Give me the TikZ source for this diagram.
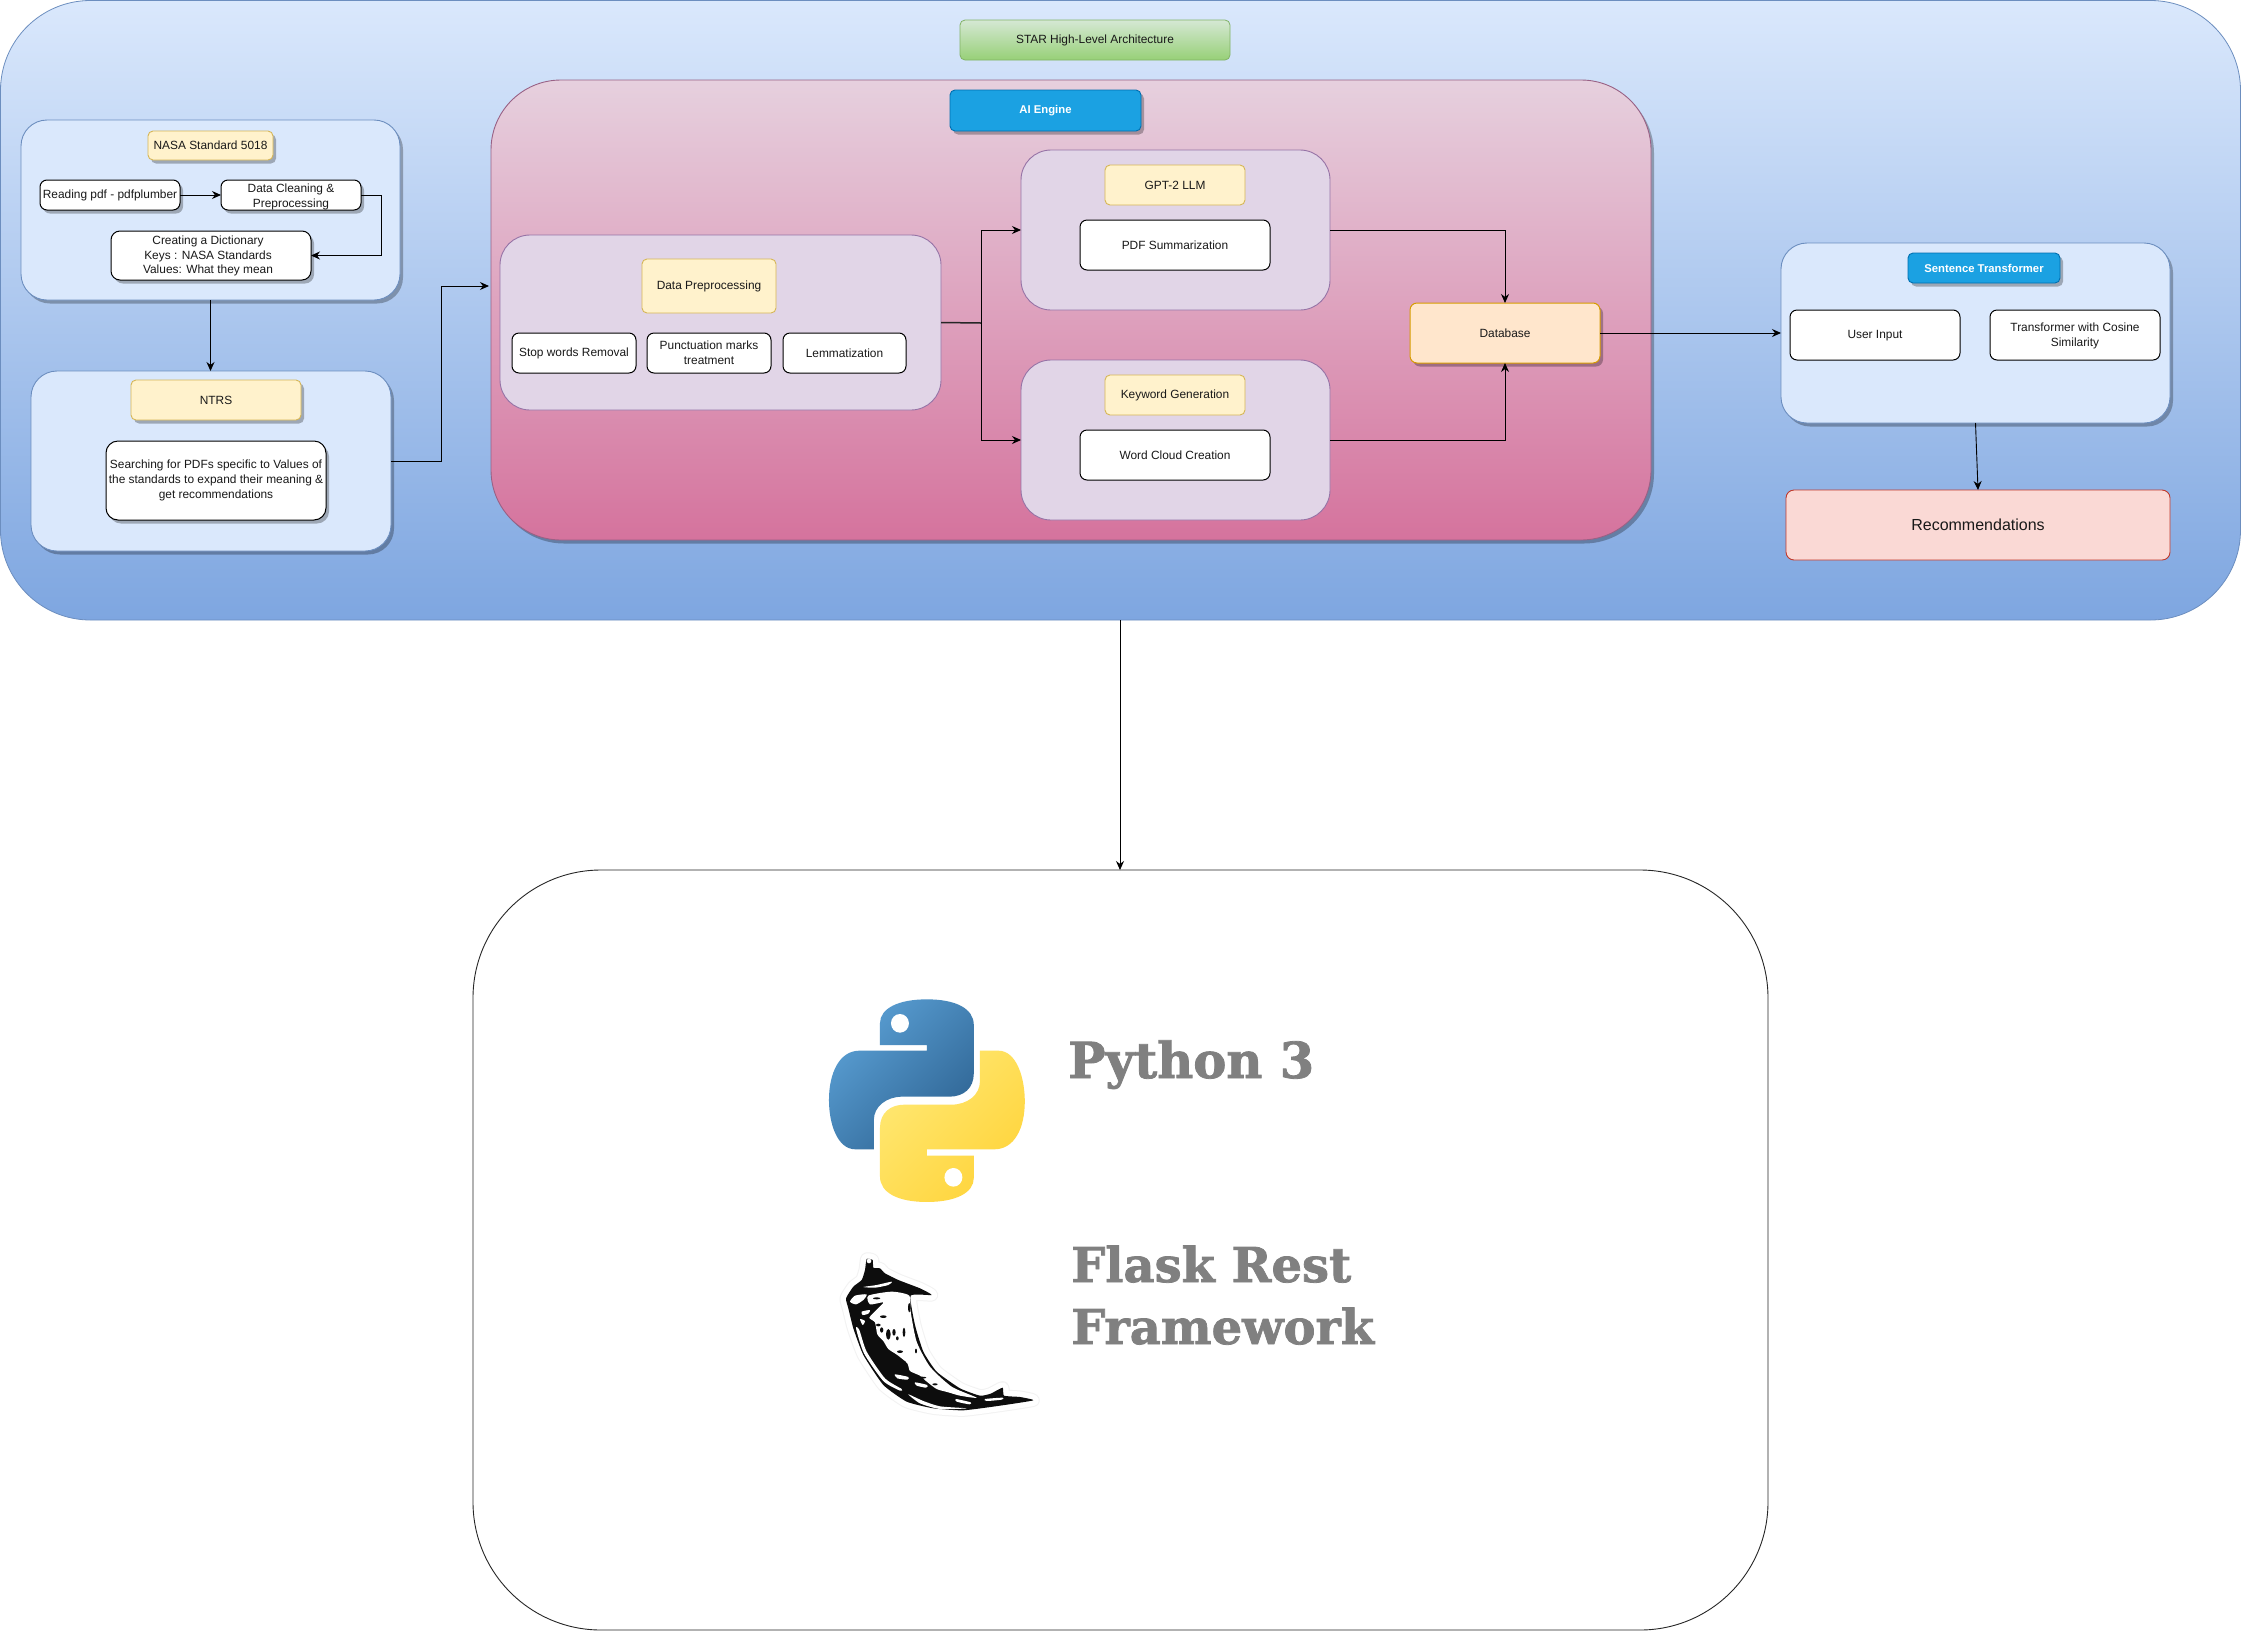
\documentclass[tikz,border=0pt]{standalone}
\usepackage{fontspec}
\setmainfont{Liberation Sans}
\newfontfamily\slabfont[BoldFeatures={FakeBold=1.6}]{DejaVu Serif}
\usetikzlibrary{arrows.meta,shadows}
\definecolor{panelfill}{HTML}{DAE8FC}
\definecolor{panelline}{HTML}{6C8EBF}
\definecolor{outerlow}{HTML}{7EA6E0}
\definecolor{lilac}{HTML}{E1D5E7}
\definecolor{lilacline}{HTML}{9673A6}
\definecolor{cream}{HTML}{FFF2CC}
\definecolor{creamline}{HTML}{D6B656}
\definecolor{cyanfill}{HTML}{1BA1E2}
\definecolor{cyanline}{HTML}{006EAF}
\definecolor{greentop}{HTML}{D5E8D4}
\definecolor{greenlow}{HTML}{97D077}
\definecolor{greenline}{HTML}{82B366}
\definecolor{pinkline}{HTML}{996185}
\definecolor{pinktop}{HTML}{E6D0DE}
\definecolor{pinklow}{HTML}{D5739D}
\definecolor{dbline}{HTML}{D79B00}
\definecolor{dbfill}{HTML}{FFE6CC}
\definecolor{recline}{HTML}{C0392B}
\definecolor{recfill}{HTML}{FAD9D5}
\definecolor{pyblueA}{HTML}{5A9FD4}
\definecolor{pyblueB}{HTML}{2F6594}
\definecolor{pyyelA}{HTML}{FFE873}
\definecolor{pyyelB}{HTML}{FFD43B}
\tikzset{
  x=1pt,y=-1pt,
  softshadow/.style={drop shadow={shadow xshift=3pt,shadow yshift=-3.5pt,fill=black,opacity=.28}},
  base/.style={rectangle,inner sep=0pt,outer sep=0pt,align=center,text=black!90,font=\fontsize{11.9}{14.6}\selectfont},
  outerbox/.style={base,rounded corners=90pt,draw=panelline,line width=.8pt,top color=panelfill,bottom color=outerlow,shading angle=0},
  panel/.style={base,rounded corners=26pt,draw=panelline,line width=.9pt,fill=panelfill,softshadow},
  lilacpanel/.style={base,rounded corners=30pt,draw=lilacline,line width=.9pt,fill=lilac},
  title/.style={base,rounded corners=5pt,draw=creamline,line width=.9pt,fill=cream},
  whitebox/.style={base,rounded corners=7pt,draw=black,line width=1pt,fill=white},
  bluetitle/.style={base,rounded corners=5pt,draw=cyanline,line width=.9pt,fill=cyanfill,text=white,softshadow,font=\fontsize{11.3}{14.6}\selectfont\bfseries},
  link/.style={draw=black,line width=.9pt,-{Stealth[length=9pt,width=8pt]}},
  logotext/.style={inner sep=0pt,anchor=base west,text=black!50,font=\fontsize{48}{62}\selectfont\slabfont\bfseries}
}
\newcommand\bx[7]{%
  \pgfmathsetmacro\bxcx{(#3+#5)/2}\pgfmathsetmacro\bxcy{(#4+#6)/2}%
  \pgfmathsetmacro\bxw{#5-#3}\pgfmathsetmacro\bxh{#6-#4}%
  \node[#2,minimum width=\bxw pt,minimum height=\bxh pt] (#1) at (\bxcx,\bxcy) {#7};}
\newcommand\hornpath{plot[smooth cycle,tension=.3] coordinates {(78,160) (85,190) (100,250) (130,330) (190,420) (260,470) (340,490) (430,496) (540,482) (640,466) (600,456) (552,452) (548,428) (512,446) (480,452) (420,430) (350,380) (310,320) (285,240) (272,152) (335,150) (300,130) (235,105) (195,85) (180,70) (160,68) (158,45) (140,42) (135,75) (125,105) (100,125)}}
\newcommand\hornspot[1]{\fill[white] plot[smooth cycle,tension=.4] coordinates {#1};}
\begin{document}
\begin{tikzpicture}
\useasboundingbox (0,0) rectangle (2241,1631);
\fill[white] (0,0) rectangle (2241,1631);
% outer container
\bx{outer}{outerbox}{0.5}{0.5}{2240.5}{620}{}
\bx{star}{base,rounded corners=5pt,draw=greenline,line width=.8pt,top color=greentop,bottom color=greenlow,shading angle=0}{960}{20}{1230}{60}{STAR High-Level Architecture}
% left
\bx{nasa}{panel}{21}{120}{400}{300}{}
\bx{nasat}{title,softshadow}{148}{131}{273}{160}{NASA Standard 5018}
\bx{read}{whitebox,softshadow}{40}{180}{180}{210}{Reading pdf - pdfplumber}
\bx{clean}{whitebox,softshadow}{221}{180}{361}{210}{}
\node[base] (cleantext) at ([yshift=-2pt]clean.center) {Data Cleaning \&\\Preprocessing};
\bx{dict}{whitebox,softshadow,rounded corners=9pt}{111}{231}{311}{280}{}
\node[base] (dicttext) at ([xshift=-3pt,yshift=-.5pt]dict.center) {Creating a Dictionary\\Keys : NASA Standards\\Values: What they mean};
\bx{ntrs}{panel}{31}{371}{391}{551}{}
\bx{ntrst}{title,softshadow}{131}{380}{301}{420}{NTRS}
\bx{search}{whitebox,softshadow,rounded corners=12pt}{106}{441}{326}{520}{Searching for PDFs specific to Values of\\the standards to expand their meaning \&\\get recommendations}
% AI engine
\bx{ai}{base,rounded corners=70pt,draw=pinkline,line width=.9pt,top color=pinktop,bottom color=pinklow,shading angle=0,softshadow}{491}{80}{1651}{540}{}
\bx{ait}{bluetitle}{950}{90}{1141}{131}{AI Engine}
\bx{prep}{lilacpanel}{500}{235}{941}{410}{}
\bx{prept}{title}{642}{259}{776}{313}{Data Preprocessing}
\bx{stop}{whitebox}{512}{333}{636}{373}{Stop words Removal}
\bx{punct}{whitebox}{647}{333}{771}{373}{Punctuation marks\\treatment}
\bx{lemma}{whitebox}{783}{333}{906}{373}{Lemmatization}
\bx{gpt}{lilacpanel}{1021}{150}{1330}{310}{}
\bx{gptt}{title}{1105}{165}{1245}{205}{GPT-2 LLM}
\bx{pdf}{whitebox}{1080}{220}{1270}{270}{PDF Summarization}
\bx{key}{lilacpanel}{1021}{360}{1330}{520}{}
\bx{keyt}{title}{1105}{375}{1245}{415}{Keyword Generation}
\bx{word}{whitebox}{1080}{430}{1270}{480}{Word Cloud Creation}
\bx{db}{base,rounded corners=7pt,draw=dbline,line width=1pt,fill=dbfill,softshadow}{1410}{303}{1600}{363}{Database}
% right
\bx{sent}{panel}{1781}{243}{2170}{423}{}
\bx{sentt}{bluetitle}{1908}{253}{2060}{283}{Sentence Transformer}
\bx{user}{whitebox}{1790}{310}{1960}{360}{}
\node[base] (usertext) at ([yshift=-1pt]user.center) {User Input};
\bx{trans}{whitebox}{1990}{310}{2160}{360}{}
\node[base] (transtext) at ([yshift=-1pt]trans.center) {Transformer with Cosine\\Similarity};
\bx{rec}{base,rounded corners=8pt,draw=recline,line width=.9pt,fill=recfill,font=\fontsize{16}{20}\selectfont}{1786}{490}{2170}{560}{Recommendations}
% bottom
\bx{stack}{base,rounded corners=128pt,draw=black!85,line width=.9pt,fill=white}{473}{870}{1768}{1630}{}
% connectors
\coordinate (aiin) at (489,286);
\coordinate (fork) at (981,323);
\coordinate (stacktop) at (1120,870);
\coordinate (outerbot) at (1120,620);
\draw[link] (read.east) -- (clean.west);
\draw[link] (clean.east) -- ++(20,0) |- (dict.east);
\draw[link] (nasa.south) -- (nasa.south |- ntrs.north);
\draw[link] (ntrs.east) -- ++(50,0) |- (aiin);
\draw[line width=1.5pt,black!85] (prep.east) -- (fork);
\draw[link] (fork) |- (gpt.west);
\draw[link] (fork) |- (key.west);
\draw[link] (gpt.east) -| (db.north);
\draw[link] (key.east) -| (db.south);
\draw[link] (db.east) -- (sent.west);
\draw[link] (sent.south) -- (rec.north);
\draw[link] (outerbot) -- (stacktop);
% Python logo
\begin{scope}[shift={(780,960)},xscale=0.408,yscale=0.3333]
  \path[top color=pyblueA,bottom color=pyblueB,shading angle=45]
    (360,118) .. controls (430,118) and (475,145) .. (475,195)
    -- (475,340) .. controls (475,385) and (450,410) .. (415,410)
    -- (300,410) .. controls (260,410) and (230,440) .. (230,480)
    -- (230,568) -- (185,568) .. controls (140,568) and (120,490) .. (120,420)
    .. controls (120,340) and (145,272) .. (195,272)
    -- (360,272) -- (360,255) -- (245,255) -- (245,190)
    .. controls (245,145) and (290,118) .. (360,118) -- cycle;
  \path[top color=pyyelA,bottom color=pyyelB,shading angle=45]
    (360,726) .. controls (290,726) and (245,699) .. (245,649)
    -- (245,504) .. controls (245,459) and (270,434) .. (305,434)
    -- (420,434) .. controls (460,434) and (490,404) .. (490,364)
    -- (490,272) -- (535,272) .. controls (580,272) and (600,354) .. (600,424)
    .. controls (600,504) and (575,568) .. (525,568)
    -- (360,568) -- (360,587) -- (475,587) -- (475,654)
    .. controls (475,699) and (430,726) .. (360,726) -- cycle;
  \fill[white] (294,190) ellipse [x radius=22,y radius=28];
  \fill[white] (425,652) ellipse [x radius=22,y radius=28];
\end{scope}
% Flask horn
\begin{scope}[shift={(820,1245)},scale=0.3333]
  \draw[black!5,line width=13pt,line join=round] \hornpath;
  \draw[white,line width=11pt,line join=round] \hornpath;
  \fill[black!95] \hornpath;
  \fill[white] (147,48) circle [radius=7];
  % large pale interior
  \hornspot{(145,152) (215,140) (268,152) (272,200) (290,290) (330,365) (395,425) (470,458) (420,452) (385,442) (350,432) (318,408) (300,392) (270,378) (262,355) (232,330) (205,312) (190,288) (172,268) (165,232) (148,218) (172,192) (190,172) (150,178)}
  % top bands and side streaks
  \hornspot{(130,126) (170,120) (215,110) (205,120) (165,128)}
  \hornspot{(90,170) (105,152) (140,148) (130,165) (108,178)}
  \hornspot{(108,250) (118,255) (140,320) (195,400) (245,432) (240,437) (190,408) (132,325)}
  \hornspot{(265,448) (310,468) (360,484) (440,490) (360,492) (300,475)}
  \hornspot{(225,388) (265,396) (262,404) (232,400)}
  \hornspot{(285,412) (322,420) (318,428) (290,422)}
  \hornspot{(408,462) (452,472) (448,478) (410,470)}
  \hornspot{(495,462) (548,458) (545,464) (500,468)}
  \hornspot{(125,200) (150,195) (145,206) (128,210)}
  \hornspot{(120,222) (135,228) (128,240)}
  % marks on the pale interior
  \foreach \sx/\sy/\rx/\ry in {268/188/4/14,205/268/7/16,222/262/5/10,252/262/4/14,190/215/10/4,175/240/7/4,185/255/5/8,232/280/4/6,288/318/3/7,240/320/9/4,222/352/15/7,248/352/10/5,305/398/14/3,345/418/8/3,170/160/11/3,260/135/10/3}
    \fill[black!95] (\sx,\sy) ellipse [x radius=\rx,y radius=\ry];
\end{scope}
\node[logotext] (py) at (1068,1078) {\fontsize{49.6}{62}\selectfont Python 3};
\node[logotext] (fl) at (1071,1282) {Flask Rest};
\node[logotext] (fw) at (1071,1344) {Framework};
\end{tikzpicture}
\end{document}
